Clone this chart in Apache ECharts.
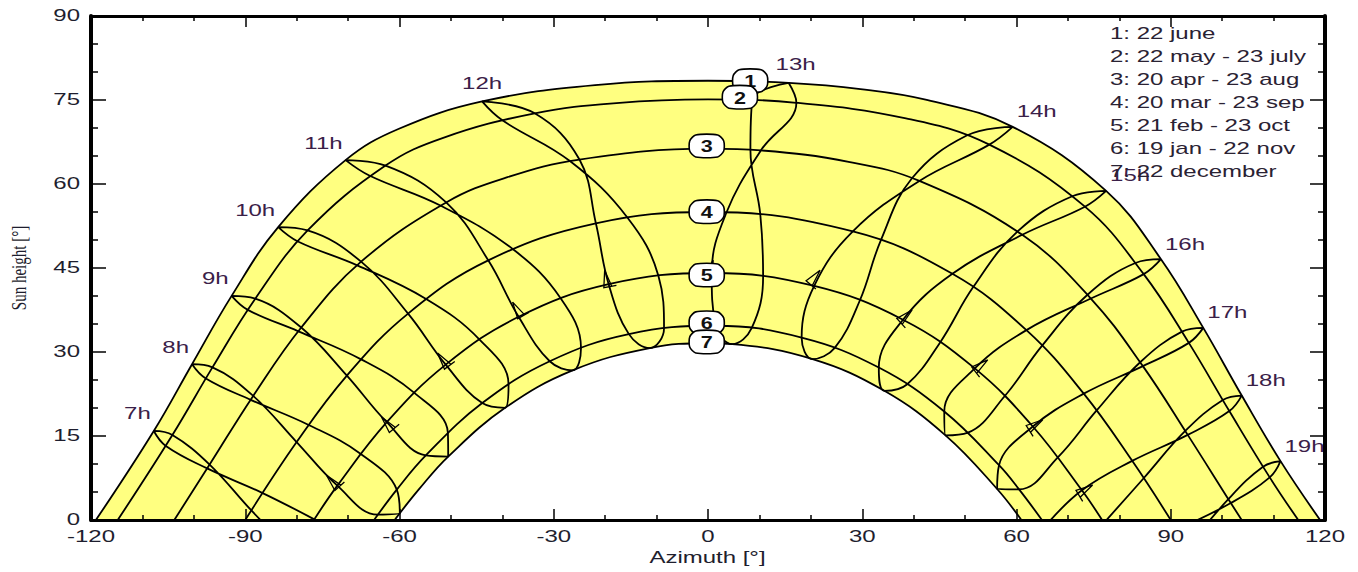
<!DOCTYPE html>
<html><head><meta charset="utf-8">
<script src="https://cdn.jsdelivr.net/npm/echarts@6/dist/echarts.min.js"></script>
<style>html,body{margin:0;padding:0;background:#fff}#c{width:1358px;height:572px}</style>
</head><body><div id="c"></div>
<script>
// ---------- data ----------
const xTicks = [-120, -90, -60, -30, 0, 30, 60, 90, 120];
const yTicks = [0, 15, 30, 45, 60, 75, 90];
const legendLines = ['1: 22 june', '2: 22 may - 23 july', '3: 20 apr - 23 aug', '4: 20 mar - 23 sep',
  '5: 21 feb - 23 oct', '6: 19 jan - 22 nov', '7: 22 december'];
const hourNames = ['7h','8h','9h','10h','11h','12h','13h','14h','15h','16h','17h','18h','19h'];

// date curves [azimuth, sun height]
const d1 = [[-119.05,0],[-107.79,15.90],[-100.35,27.82],[-92.65,40.02],[-83.59,52.30],[-70.49,64.26],[-60.11,69.86],[-43.94,74.74],[-21.96,77.66],[0,78.44],[15.68,78.07],[29.65,76.96],[42.55,75.02],[59.26,70.20],[77.43,58.77],[88.10,46.57],[96.33,34.31],[103.81,22.22],[111.35,10.51],[119.05,0]];
const d2 = [[-114.8,0],[-104.17,15.18],[-96.38,27.26],[-88.05,39.52],[-77.87,51.71],[-62.72,63.29],[-51.5,68.25],[-33.70,72.62],[-17.8,74.46],[0,75.1],[17.19,74.50],[38.5,71.71],[54.72,67.03],[73.31,55.95],[84.74,43.90],[93.52,31.63],[101.39,19.45],[109.25,7.61],[114.8,0]];
const d3 = [[-103.8,0],[-96.93,9.90],[-88.46,22.16],[-79.11,34.37],[-67.47,46.13],[-50.92,56.71],[-39.0,61.22],[-25.00,64.37],[0,66.3],[10.28,66.00],[27.6,63.92],[41.11,60.55],[61.12,50.93],[74.46,39.55],[84.58,27.48],[93.30,15.20],[101.68,3.03],[103.8,0]];
const d4 = [[-90,0],[-80.01,13.92],[-70.23,25.79],[-58.33,36.86],[-42.74,46.37],[-21.81,52.99],[0,55],[28.17,51.54],[47.53,43.96],[61.93,33.91],[73.08,22.56],[82.50,10.56],[90,0]];
const d5 = [[-76.65,0],[-72.09,6.14],[-62.47,17.46],[-51.01,27.74],[-36.83,36.29],[-19.32,42.11],[0.72,44.11],[20.65,41.80],[37.92,35.77],[51.89,27.07],[63.18,16.70],[72.72,5.31],[76.65,0]];
const d6 = [[-64.95,0],[-60.53,5.43],[-54.88,11.54],[-43.91,20.88],[-30.78,28.35],[-15.39,33.19],[1.48,34.69],[18.21,32.57],[33.22,27.22],[45.95,19.38],[56.60,9.78],[60.50,5.47],[64.95,0]];
const d7 = [[-60.95,0],[-56.2,5.5],[-50.53,11.33],[-39.46,20.03],[-26.34,26.72],[-11.32,30.70],[0,31.56],[4.73,31.41],[20.34,28.73],[34.30,23.07],[46.19,15.12],[56.23,5.54],[60.95,0]];

// hour lines (clock time), points in calendar order
const h07 = [[-80.74,-5.80],[-88.81,1.70],[-96.93,9.90],[-104.17,15.18],[-107.79,15.90],[-105.44,13.23],[-97.40,9.21],[-86.62,4.81],[-76.56,0.11]];
const h08 = [[-100.35,27.82],[-97.66,25.27],[-88.95,21.46],[-77.66,16.97],[-67.53,11.80],[-60.53,5.43],[-59.94,1.23],[-64.20,0.96],[-72.09,6.14],[-80.01,13.92],[-88.46,22.16],[-96.38,27.26],[-100.35,27.82]];
const h09 = [[-92.65,40.02],[-89.50,37.52],[-79.67,33.69],[-67.47,28.69],[-57.11,22.69],[-50.59,15.58],[-50.53,11.33],[-54.88,11.54],[-62.47,17.46],[-70.23,25.79],[-79.11,34.37],[-88.05,39.52],[-92.65,40.02]];
const h10 = [[-83.59,52.30],[-79.76,49.74],[-68.22,45.48],[-54.82,39.46],[-44.43,32.22],[-38.79,24.22],[-39.46,20.03],[-43.91,20.88],[-51.01,27.74],[-58.33,36.86],[-67.47,46.13],[-77.87,51.71],[-83.59,52.30]];
const h11 = [[-70.49,64.26],[-65.78,61.47],[-52.05,56.16],[-37.98,48.38],[-28.63,39.56],[-24.70,30.71],[-26.34,26.72],[-30.78,28.35],[-36.83,36.29],[-42.74,46.37],[-50.92,56.71],[-62.72,63.29],[-70.49,64.26]];
const h12 = [[-43.94,74.74],[-40.06,71.41],[-26.79,64.05],[-15.65,53.98],[-9.65,43.62],[-8.55,34.24],[-11.32,30.70],[-15.39,33.19],[-19.32,42.11],[-21.81,52.99],[-25.00,64.37],[-33.70,72.62],[-43.94,74.74]];
const h13 = [[15.68,78.07],[8.61,74.95],[8.25,66.10],[10.17,54.58],[10.72,43.50],[8.49,34.25],[4.73,31.41],[1.48,34.69],[0.72,44.11],[3.61,54.95],[10.28,66.00],[17.19,74.50],[15.68,78.07]];
const h14 = [[59.26,70.20],[50.32,68.65],[39.67,61.02],[33.61,49.95],[29.55,39.24],[24.65,30.73],[20.34,28.73],[18.21,32.57],[20.65,41.80],[28.17,51.54],[41.11,60.55],[54.72,67.03],[59.26,70.20]];
const h15 = [[77.43,58.77],[70.96,57.86],[60.21,51.53],[51.58,41.59],[45.18,31.76],[38.75,24.25],[34.30,23.07],[33.22,27.22],[37.92,35.77],[47.53,43.96],[61.12,50.93],[73.31,55.95],[77.43,58.77]];
const h16 = [[88.10,46.57],[83.13,45.90],[73.81,40.22],[64.98,31.13],[57.72,22.14],[50.55,15.61],[46.19,15.12],[45.95,19.38],[51.89,27.07],[61.93,33.91],[74.46,39.55],[84.74,43.90],[88.10,46.57]];
const h17 = [[96.33,34.31],[92.18,33.63],[84.05,28.17],[75.59,19.56],[68.04,11.20],[60.50,5.47],[56.23,5.54],[56.60,9.78],[63.18,16.70],[73.08,22.56],[84.58,27.48],[93.52,31.63],[96.33,34.31]];
const h18 = [[65.70,-0.98],[72.72,5.31],[82.50,10.56],[93.30,15.20],[101.39,19.45],[103.81,22.22],[100.13,21.43],[92.82,15.90],[84.73,7.46],[77.02,-0.50]];
const h19 = [[91.19,-1.70],[101.68,3.03],[109.25,7.61],[111.35,10.51],[107.94,9.51],[101.20,3.72],[93.38,-4.81]];

// direction arrows: [tip az, tip alt, toward az, toward alt]
const arrows = [[-74.2,8.0,-80.01,13.92],[-63.5,18.4,-70.23,25.79],[-52.6,29.8,-58.33,36.86],[-38.0,38.9,-42.74,46.37],
  [-20.1,44.6,-21.81,52.99],[1.0,46.4,3.61,54.95],[21.8,44.6,28.17,51.54],[39.7,37.5,47.53,43.96],
  [54.4,28.6,61.93,33.91],[65.1,17.9,73.08,22.56],[74.8,6.25,82.50,10.56]];

// numbered markers of the date curves
const markerNums = [1, 2, 3, 4, 5, 6, 7];
const markerAz = [8.2, 6.2, -0.25, -0.25, -0.25, -0.25, -0.25];
const markerAlt = [78.45, 75.5, 66.8, 55.05, 43.75, 35.2, 31.8];

// ---------- chart ----------
const dates = [d1, d2, d3, d4, d5, d6, d7];
const hours = [h07, h08, h09, h10, h11, h12, h13, h14, h15, h16, h17, h18, h19];
const SX = 1.5;
const FONT = '"Liberation Sans", Arial, sans-serif';
const SMOOTH = 0.4;

function txtStyle(text, size, align, valign, color, weight) {
  return { text: text, font: (weight || 'normal') + ' ' + size + 'px ' + FONT, fill: color,
    align: align, verticalAlign: valign, textAlign: align, textVerticalAlign: valign };
}
function curve(data) {
  return { type: 'line', data: data, smooth: SMOOTH, symbol: 'none', showSymbol: false, silent: true,
    lineStyle: { color: '#000', width: 1.8 }, z: 3 };
}
function xAxisDef(pos) {
  return { type: 'value', position: pos, min: -120, max: 120, interval: 30, z: 8,
    axisLine: { onZero: false, lineStyle: { color: '#000', width: 3 } },
    axisTick: { inside: true, length: 11, lineStyle: { color: '#000', width: 1.5 } },
    minorTick: { show: true, splitNumber: 3, length: 5, lineStyle: { color: '#000', width: 1.5 } },
    axisLabel: { show: false }, splitLine: { show: false }, minorSplitLine: { show: false } };
}
function yAxisDef(pos) {
  return { type: 'value', position: pos, min: 0, max: 90, interval: 15, z: 8,
    axisLine: { onZero: false, lineStyle: { color: '#000', width: 4 } },
    axisTick: { inside: true, length: 15, lineStyle: { color: '#000', width: 1.5 } },
    minorTick: { show: true, splitNumber: 3, length: 7, lineStyle: { color: '#000', width: 1.5 } },
    axisLabel: { show: false }, splitLine: { show: false }, minorSplitLine: { show: false } };
}

const OCT = [[-17,-5],[-11,-11],[11,-11],[17,-5],[17,5],[11,11],[-11,11],[-17,5]];

const series = [
  { type: 'line', data: d1, smooth: SMOOTH, symbol: 'none', silent: true, z: 1,
    lineStyle: { width: 0, opacity: 0 }, areaStyle: { color: '#ffff80', opacity: 1 } },
  { type: 'line', data: d7, smooth: SMOOTH, symbol: 'none', silent: true, z: 1,
    lineStyle: { width: 0, opacity: 0 }, areaStyle: { color: '#ffffff', opacity: 1 } }
];
dates.forEach(d => series.push(curve(d)));
hours.forEach(h => series.push(curve(h)));

series.push({ type: 'custom', data: arrows, z: 4, silent: true, clip: true,
  renderItem: function (p, api) {
    const t = api.coord([api.value(0), api.value(1)]);
    const q = api.coord([api.value(2), api.value(3)]);
    let dx = q[0] - t[0], dy = q[1] - t[1];
    const L = Math.hypot(dx, dy) || 1; dx /= L; dy /= L;
    const len = 17, w = 4;
    const bx = t[0] - dx * len, by = t[1] - dy * len, nx = -dy, ny = dx;
    return { type: 'polyline', shape: { points: [[bx + nx * w, by + ny * w], [t[0], t[1]], [bx - nx * w, by - ny * w], [bx + nx * w * 2.2, by + ny * w * 2.2]] },
      style: { fill: 'none', stroke: '#000', lineWidth: 1.3 } };
  } });

series.push({ type: 'custom', z: 5, silent: true, clip: false,
  data: markerNums.map((n, i) => [markerAz[i], markerAlt[i], n]),
  renderItem: function (p, api) {
    const c = api.coord([api.value(0), api.value(1)]);
    return { type: 'group', x: c[0], y: c[1], children: [
      { type: 'polygon', shape: { points: OCT, smooth: 0.25 }, style: { fill: '#fff', stroke: '#000', lineWidth: 1.6 } },
      { type: 'text', x: 0, y: 1, scaleX: 1.35, style: txtStyle(String(api.value(2)), 16, 'center', 'middle', '#111', 'bold') }
    ] };
  } });

series.push({ type: 'custom', z: 6, silent: true, clip: false,
  data: hours.map((h, i) => { const top = h.reduce((a, b) => b[1] > a[1] ? b : a); return [top[0], top[1], i]; }),
  renderItem: function (p, api) {
    const c = api.coord([api.value(0), api.value(1)]);
    const i = api.value(2), t = 7 + i;
    let align = 'center', dx = 0, dy = -17.5;
    if (t < 12) { align = 'right'; dx = -3; dy = -17; }
    else if (t === 13) { dx = 7; dy = -18; }
    else if (t > 13) { align = 'left'; dx = 4; dy = -15; }
    return { type: 'text', x: c[0] + dx, y: c[1] + dy, scaleX: SX, style: txtStyle(hourNames[i], 16, align, 'middle', '#3a2048') };
  } });

series.push({ type: 'custom', z: 6, silent: true, clip: false,
  data: xTicks.map(v => [v, 0]),
  renderItem: function (p, api) {
    const c = api.coord([api.value(0), api.value(1)]);
    return { type: 'text', x: c[0], y: c[1] + 17, scaleX: SX, style: txtStyle(String(api.value(0)), 16, 'center', 'middle', '#1e1e2e') };
  } });

series.push({ type: 'custom', z: 6, silent: true, clip: false,
  data: yTicks.map(v => [-120, v]),
  renderItem: function (p, api) {
    const c = api.coord([api.value(0), api.value(1)]);
    return { type: 'text', x: c[0] - 11, y: c[1], scaleX: SX, style: txtStyle(String(api.value(1)), 16, 'right', 'middle', '#1e1e2e') };
  } });

const graphic = [];
legendLines.forEach((s, i) => graphic.push({ type: 'text', x: 1110, y: 33.4 + 23 * i, scaleX: SX, z: 20,
  style: txtStyle(s, 16, 'left', 'middle', '#2a2233') }));
graphic.push({ type: 'text', x: 707.5, y: 558, scaleX: SX, z: 20, style: txtStyle('Azimuth [°]', 16, 'center', 'middle', '#1e1e2e') });
graphic.push({ type: 'text', x: 18, y: 268, rotation: Math.PI / 2, scaleY: 1.45, z: 20,
  style: { text: 'Sun height [°]', font: '15px "Liberation Serif", "Times New Roman", serif', fill: '#1e1e2e',
    align: 'center', verticalAlign: 'middle', textAlign: 'center', textVerticalAlign: 'middle' } });

const chart = echarts.init(document.getElementById('c'), null, { renderer: 'svg' });
chart.setOption({
  animation: false,
  backgroundColor: '#fff',
  grid: { left: 91, top: 16, width: 1234, height: 504 },
  xAxis: [xAxisDef('bottom'), xAxisDef('top')],
  yAxis: [yAxisDef('left'), yAxisDef('right')],
  series: series,
  graphic: graphic
});
</script>
</body></html>
